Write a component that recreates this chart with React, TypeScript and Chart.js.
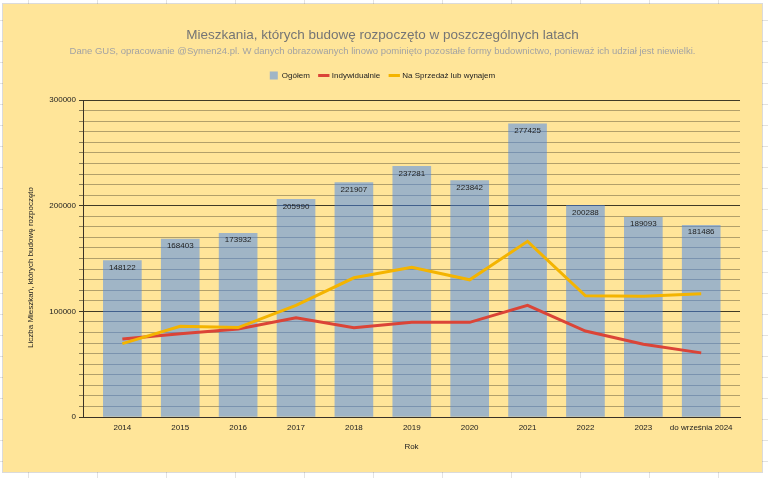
import React, { useEffect, useRef } from 'react';
import { Chart, registerables, layouts } from 'chart.js';

Chart.register(...registerables);

const categories = ['2014', '2015', '2016', '2017', '2018', '2019', '2020', '2021', '2022', '2023', 'do września 2024'];
const totalValues = [148122, 168403, 173932, 205990, 221907, 237281, 223842, 277425, 200288, 189093, 181486];
const individualValues = [73900, 78900, 83400, 94000, 84600, 89600, 89600, 105700, 81400, 68900, 60700];
const forSaleValues = [69500, 85800, 84700, 105600, 131800, 141800, 129900, 166300, 114800, 114200, 116700];

const FONT = "'Liberation Sans', Arial, sans-serif";
const BAR_COLOR = 'rgba(66,133,244,0.5)';
const RED = '#DB4437';
const YELLOW = '#F4B400';

function makeSpacer(position: string, size: number, weight: number, fullSize: boolean) {
  const horizontal = position === 'top' || position === 'bottom';
  return {
    position,
    weight,
    fullSize,
    options: {},
    top: 0, left: 0, right: 0, bottom: 0, width: 0, height: 0,
    isHorizontal() { return horizontal; },
    update(maxWidth: number, maxHeight: number) {
      if (horizontal) { this.width = maxWidth; this.height = size; }
      else { this.width = size; this.height = maxHeight; }
    },
    getPadding() { return { top: 0, left: 0, right: 0, bottom: 0 }; },
    draw() {},
  };
}

const spacerPlugin = {
  id: 'layoutSpacers',
  start(chart: any) {
    layouts.addBox(chart, makeSpacer('top', 10.5, 500, true) as any);
    layouts.addBox(chart, makeSpacer('right', 22, 0, false) as any);
  },
};

const barLabelsPlugin = {
  id: 'barLabels',
  afterDatasetsDraw(chart: any) {
    const meta = chart.getDatasetMeta(0);
    const ctx = chart.ctx;
    ctx.save();
    ctx.font = `8px ${FONT}`;
    ctx.fillStyle = '#222222';
    ctx.textAlign = 'center';
    ctx.textBaseline = 'middle';
    meta.data.forEach((el: any, i: number) => {
      ctx.fillText(String(totalValues[i]), el.x, el.y + 7);
    });
    ctx.restore();
  },
};

export default function App() {
  const ref = useRef<HTMLCanvasElement | null>(null);

  useEffect(() => {
    if (!ref.current) return;
    Chart.defaults.font.family = FONT;
    const chart = new Chart(ref.current, {
      type: 'bar',
      data: {
        datasets: [
          {
            type: 'bar',
            label: 'Ogółem',
            data: totalValues.map((v, i) => ({ x: i, y: v })),
            backgroundColor: BAR_COLOR,
            borderWidth: 0,
            barThickness: 38,
            order: 2,
          } as any,
          {
            type: 'line',
            label: 'Indywidualnie',
            data: individualValues.map((v, i) => ({ x: i, y: v })),
            borderColor: RED,
            backgroundColor: RED,
            borderWidth: 3,
            pointRadius: 0,
            tension: 0,
            order: 1,
          },
          {
            type: 'line',
            label: 'Na Sprzedaż lub wynajem',
            data: forSaleValues.map((v, i) => ({ x: i, y: v })),
            borderColor: YELLOW,
            backgroundColor: YELLOW,
            borderWidth: 3,
            pointRadius: 0,
            tension: 0,
            order: 0,
          },
        ],
      },
      options: {
        animation: false,
        responsive: false,
        maintainAspectRatio: false,
        layout: { padding: { left: 0, right: 0, top: 0, bottom: 0 } },
        plugins: {
          tooltip: { enabled: false },
          title: {
            display: true,
            text: 'Mieszkania, których budowę rozpoczęto w poszczególnych latach',
            color: '#757575',
            font: { size: 13.5, weight: 'normal', family: FONT },
            padding: { top: 23, bottom: 0 },
          },
          subtitle: {
            display: true,
            text: 'Dane GUS, opracowanie @Symen24.pl. W danych obrazowanych linowo pominięto pozostałe formy budownictwo, ponieważ ich udział jest niewielki.',
            color: '#a3a3a3',
            font: { size: 9.5, weight: 'normal', family: FONT },
            padding: { top: 2.5, bottom: 4.5 },
          },
          legend: {
            display: true,
            position: 'top',
            labels: {
              usePointStyle: true,
              boxHeight: 8,
              boxWidth: 10,
              padding: 10,
              color: '#222222',
              font: { size: 8, family: FONT },
              generateLabels(chart: any) {
                const items = (Chart.defaults.plugins.legend.labels as any).generateLabels(chart);
                items.sort((a: any, b: any) => a.datasetIndex - b.datasetIndex);
                return items.map((it: any) =>
                  it.datasetIndex === 0
                    ? { ...it, pointStyle: 'rect', lineWidth: 0, fillStyle: BAR_COLOR, strokeStyle: 'rgba(0,0,0,0)' }
                    : { ...it, pointStyle: 'line', lineWidth: 3 }
                );
              },
            },
          },
        },
        scales: {
          x: {
            type: 'linear',
            min: -0.68,
            max: 10.67,
            offset: false,
            grid: { display: false, drawTicks: false, offset: false },
            border: { display: true, color: '#3a3226', width: 1 },
            afterBuildTicks: (axis: any) => {
              axis.ticks = categories.map((_, i) => ({ value: i }));
            },
            afterFit: (scale: any) => {
              scale.height = 55;
            },
            ticks: {
              autoSkip: false,
              maxRotation: 0,
              padding: 5.5,
              color: '#222222',
              font: { size: 8, family: FONT },
              callback: (v: any) => categories[v as number] ?? '',
            },
            title: {
              display: true,
              text: 'Rok',
              color: '#222222',
              font: { size: 8, family: FONT },
              padding: { top: 0, bottom: 20 },
            },
          },
          y: {
            min: 0,
            max: 300000,
            afterFit: (scale: any) => {
              scale.width = 80;
            },
            grid: {
              color: (c: any) => (c.tick && c.tick.value % 100000 === 0 ? 'rgba(0,0,0,0.75)' : 'rgba(0,0,0,0.3)'),
              tickColor: (c: any) => (c.tick && c.tick.value % 100000 === 0 ? 'rgba(0,0,0,0.75)' : 'rgba(0,0,0,0.45)'),
              lineWidth: 1,
              drawTicks: true,
              tickLength: 4,
            },
            border: { display: true, color: '#3a3226', width: 1 },
            ticks: {
              stepSize: 10000,
              autoSkip: false,
              padding: 3,
              color: '#222222',
              font: { size: 8, family: FONT },
              callback: (v: any) => (Number(v) % 100000 === 0 ? String(v) : ''),
            },
            title: {
              display: true,
              text: 'Liczba Mieszkań, których budowę rozpoczęto' + '\u00a0'.repeat(8),
              color: '#222222',
              font: { size: 8, family: FONT },
              padding: { top: 23, bottom: 0 },
            },
          },
        },
      } as any,
      plugins: [spacerPlugin, barLabelsPlugin],
    });
    return () => chart.destroy();
  }, []);

  return (
    <div
      style={{
        position: 'fixed',
        left: 0,
        top: 0,
        width: 768,
        height: 478,
        backgroundColor: '#ffffff',
        backgroundImage:
          'repeating-linear-gradient(to right, transparent 0px, transparent 28px, #e3e3e3 28px, #e3e3e3 29px, transparent 29px, transparent 69px), repeating-linear-gradient(to bottom, transparent 0px, transparent 20px, #e3e3e3 20px, #e3e3e3 21px)',
        overflow: 'hidden',
      }}
    >
      <div
        style={{
          position: 'absolute',
          left: 3,
          top: 4,
          width: 759,
          height: 468,
          backgroundColor: '#FFE599',
          boxShadow: '0 0 0 1px rgba(0,0,0,0.14)',
        }}
      >
        <canvas ref={ref} width={759} height={468} style={{ display: 'block' }} />
      </div>
    </div>
  );
}
